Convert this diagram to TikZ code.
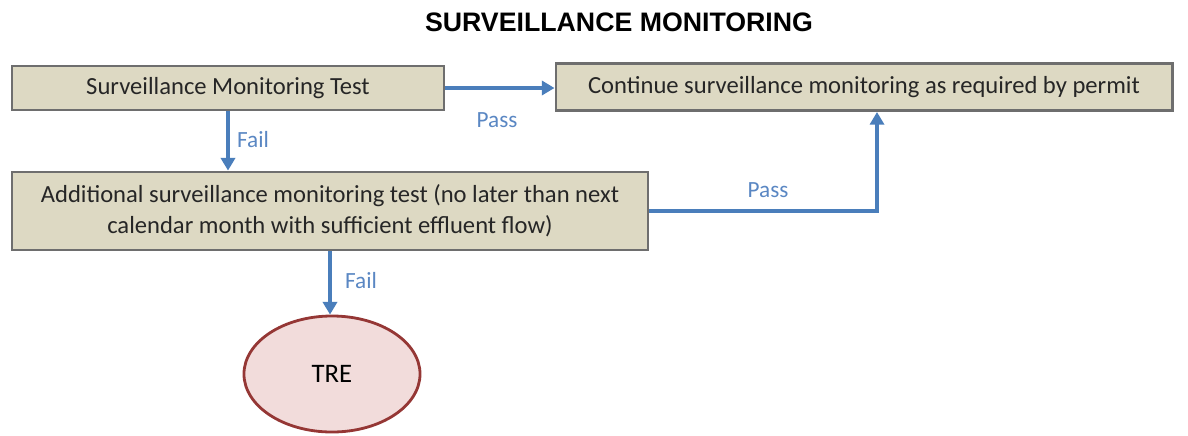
\documentclass[tikz,border=0pt]{standalone}
\usepackage{fontspec}
\setmainfont{Carlito}
\newfontfamily\titlefont{Liberation Sans}
\usetikzlibrary{arrows.meta,shapes.geometric}
\definecolor{boxfill}{RGB}{221,217,195}
\definecolor{boxline}{RGB}{110,110,110}
\definecolor{flowblue}{RGB}{74,126,187}
\definecolor{labelblue}{RGB}{90,135,195}
\definecolor{trefill}{RGB}{242,220,219}
\definecolor{treline}{RGB}{149,55,53}
\begin{document}
\begin{tikzpicture}[x=0.025cm,y=-0.025cm,
    stepbox/.style={draw=boxline,fill=boxfill,line width=2pt,text=black!85,
        font=\fontsize{17.5}{22}\selectfont,align=center,inner sep=0pt},
    flow/.style={draw=flowblue,line width=2.4pt,-{Triangle[length=9pt,width=10pt]}},
    tag/.style={text=labelblue,font=\fontsize{16.5}{20}\selectfont}]
        \useasboundingbox (0,0) rectangle (1188,435);
        \node[font=\titlefont\bfseries\fontsize{19}{23}\selectfont](title) at (619,22){SURVEILLANCE MONITORING};

        \node[stepbox,minimum width=10.8cm,minimum height=1.1cm](test) at (228,88){Surveillance Monitoring Test};
        \node[stepbox,minimum width=15.4cm,minimum height=1.18cm](cont) at (864,87){Continue surveillance monitoring as required by permit};
        \node[stepbox,minimum width=15.9cm,minimum height=1.95cm](addl) at (330,211){Additional surveillance monitoring test (no later than next\\calendar month with sufficient effluent flow)};
        \node[ellipse,draw=treline,fill=trefill,line width=2pt,minimum width=4.4cm,minimum height=2.9cm,
            font=\fontsize{19}{23}\selectfont](tre) at (332,374){TRE};

        \draw[flow](test.east)--(cont.west |- test.east);
        \draw[flow](test.south)--(addl.north -| test.south);
        \draw[flow](addl.east)-|([xshift=0.325cm]cont.south);
        \draw[flow](addl.south)--(tre.north -| addl.south);

        \node[tag](passa) at (497,120){Pass};
        \node[tag](faila) at (253,140){Fail};
        \node[tag](passb) at (768,190){Pass};
        \node[tag](failb) at (361,281){Fail};
    \end{tikzpicture}
\end{document}
